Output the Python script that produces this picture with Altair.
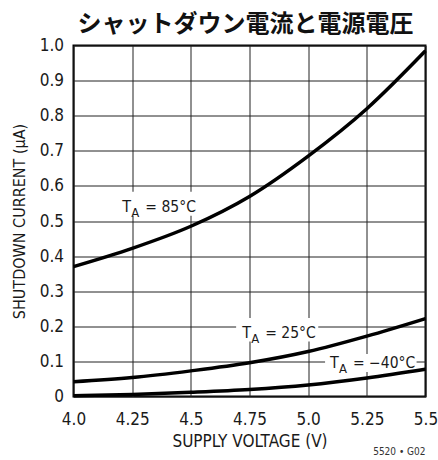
import altair as alt
import pandas as pd

# Supply voltage (V) and shutdown current (µA) for three ambient temperatures
voltage = [4.0, 4.25, 4.5, 4.75, 5.0, 5.25, 5.5]
current_85c = [0.370, 0.422, 0.485, 0.570, 0.685, 0.820, 0.985]
current_25c = [0.042, 0.054, 0.073, 0.096, 0.128, 0.172, 0.222]
current_m40c = [0.002, 0.006, 0.012, 0.020, 0.033, 0.053, 0.078]

# Axis ticks and their printed labels
x_ticks = [4.0, 4.25, 4.5, 4.75, 5.0, 5.25, 5.5]
x_tick_labels = ["4.0", "4.25", "4.5", "4.75", "5.0", "5.25", "5.5"]
y_ticks = [0, 0.1, 0.2, 0.3, 0.4, 0.5, 0.6, 0.7, 0.8, 0.9, 1.0]
y_tick_labels = ["0", "0.1", "0.2", "0.3", "0.4", "0.5", "0.6", "0.7", "0.8", "0.9", "1.0"]

# Curve annotations (anchor in data units) and the white patch behind each
label_temps = ["85°C", "25°C", "−40°C"]
label_x = [4.208, 4.719, 5.093]
label_y = [0.527, 0.166, 0.081]
patch_x1 = [4.19, 4.693, 5.072]
patch_x2 = [4.54, 5.043, 5.462]
patch_y1 = [0.515, 0.157, 0.070]
patch_y2 = [0.583, 0.224, 0.121]

TITLE = "シャットダウン電流と電源電圧"
X_TITLE = "SUPPLY VOLTAGE (V)"
Y_TITLE = "SHUTDOWN CURRENT (µA)"
NOTE = "5520 • G02"

FONT = "DejaVu Sans Condensed, sans-serif"
W, H = 352, 351

curves = pd.DataFrame({
    "v": voltage * 3,
    "i": current_85c + current_25c + current_m40c,
    "series": ["85"] * len(voltage) + ["25"] * len(voltage) + ["-40"] * len(voltage),
})
labels = pd.DataFrame({
    "temp": label_temps, "lx": label_x, "ly": label_y,
    "x1": patch_x1, "x2": patch_x2, "y1": patch_y1, "y2": patch_y2,
})


def label_expr(ticks, texts):
    expr = "datum.label"
    for t, s in zip(reversed(ticks), reversed(texts)):
        expr = f"abs(datum.value - {t}) < 1e-6 ? '{s}' : ({expr})"
    return expr


x_scale = alt.Scale(domain=[4.0, 5.5], nice=False, zero=False)
y_scale = alt.Scale(domain=[0, 1.0], nice=False)

x_axis = alt.Axis(
    values=x_ticks, labelExpr=label_expr(x_ticks, x_tick_labels),
    title=X_TITLE, grid=True, ticks=False, domain=False,
    labelFont=FONT, labelFontSize=17, labelColor="#1a1a1a",
    labelBaseline="alphabetic", labelPadding=28,
    labelFlush=False, labelOverlap=False, labelBound=False,
    titleFont=FONT, titleFontSize=17, titleFontWeight="normal", titleColor="#1a1a1a",
    titleY=45, titleBaseline="middle",
)
y_axis = alt.Axis(
    values=y_ticks, labelExpr=label_expr(y_ticks, y_tick_labels),
    title=Y_TITLE, grid=True, ticks=False, domain=False,
    labelFont=FONT, labelFontSize=17, labelColor="#1a1a1a",
    labelPadding=10, labelBaseline="middle", labelFlush=False, labelOverlap=False,
    titleFont=FONT, titleFontSize=16, titleFontWeight="normal", titleColor="#1a1a1a",
    titleX=-54, titleY=H / 2, titleAngle=270, titleAlign="center", titleBaseline="middle",
)


def X(field):
    return alt.X(field, scale=x_scale, axis=x_axis)


def Y(field):
    return alt.Y(field, scale=y_scale, axis=y_axis)


lines = alt.Chart(curves).mark_line(
    interpolate="monotone", color="black", strokeWidth=3.5
).encode(x=X("v:Q"), y=Y("i:Q"), detail="series:N")

lab = alt.Chart(labels)
patches = lab.mark_rect(color="white").encode(
    x=X("x1:Q"), x2="x2:Q", y=Y("y1:Q"), y2="y2:Q",
)
t_text = lab.mark_text(text="T", font=FONT, fontSize=16, align="left",
                       baseline="alphabetic", color="#1a1a1a").encode(
    x=X("lx:Q"), y=Y("ly:Q"))
a_text = lab.mark_text(text="A", font=FONT, fontSize=13, align="left",
                       baseline="alphabetic", dx=9, dy=5, color="#1a1a1a").encode(
    x=X("lx:Q"), y=Y("ly:Q"))
rest_text = lab.transform_calculate(txt="'= ' + datum.temp").mark_text(
    font=FONT, fontSize=15.5, align="left", baseline="alphabetic", dx=23, color="#1a1a1a"
).encode(x=X("lx:Q"), y=Y("ly:Q"), text="txt:N")

title = alt.Chart(pd.DataFrame({"t": [TITLE]})).mark_text(
    font="Noto Sans CJK JP", fontSize=24, fontWeight="bold", align="center",
    baseline="alphabetic", color="#111"
).encode(x=alt.value(W / 2 - 4), y=alt.value(-14), text="t:N")

note = alt.Chart(pd.DataFrame({"note": [NOTE]})).mark_text(
    font=FONT, fontSize=10, align="right", baseline="middle", color="#333"
).encode(x=alt.value(W), y=alt.value(H + 55), text="note:N")

chart = alt.layer(patches, lines, t_text, a_text, rest_text, title, note).properties(
    width=W, height=H,
    autosize=alt.AutoSizeParams(type="none"),
    padding={"left": 73.5, "top": 45.5, "right": 12, "bottom": 63},
).configure_view(
    stroke="black", strokeWidth=2,
).configure_axis(
    gridColor="#222", gridWidth=1, gridOpacity=1,
)

chart.save("out.html", embed_options={"renderer": "svg", "actions": False})
